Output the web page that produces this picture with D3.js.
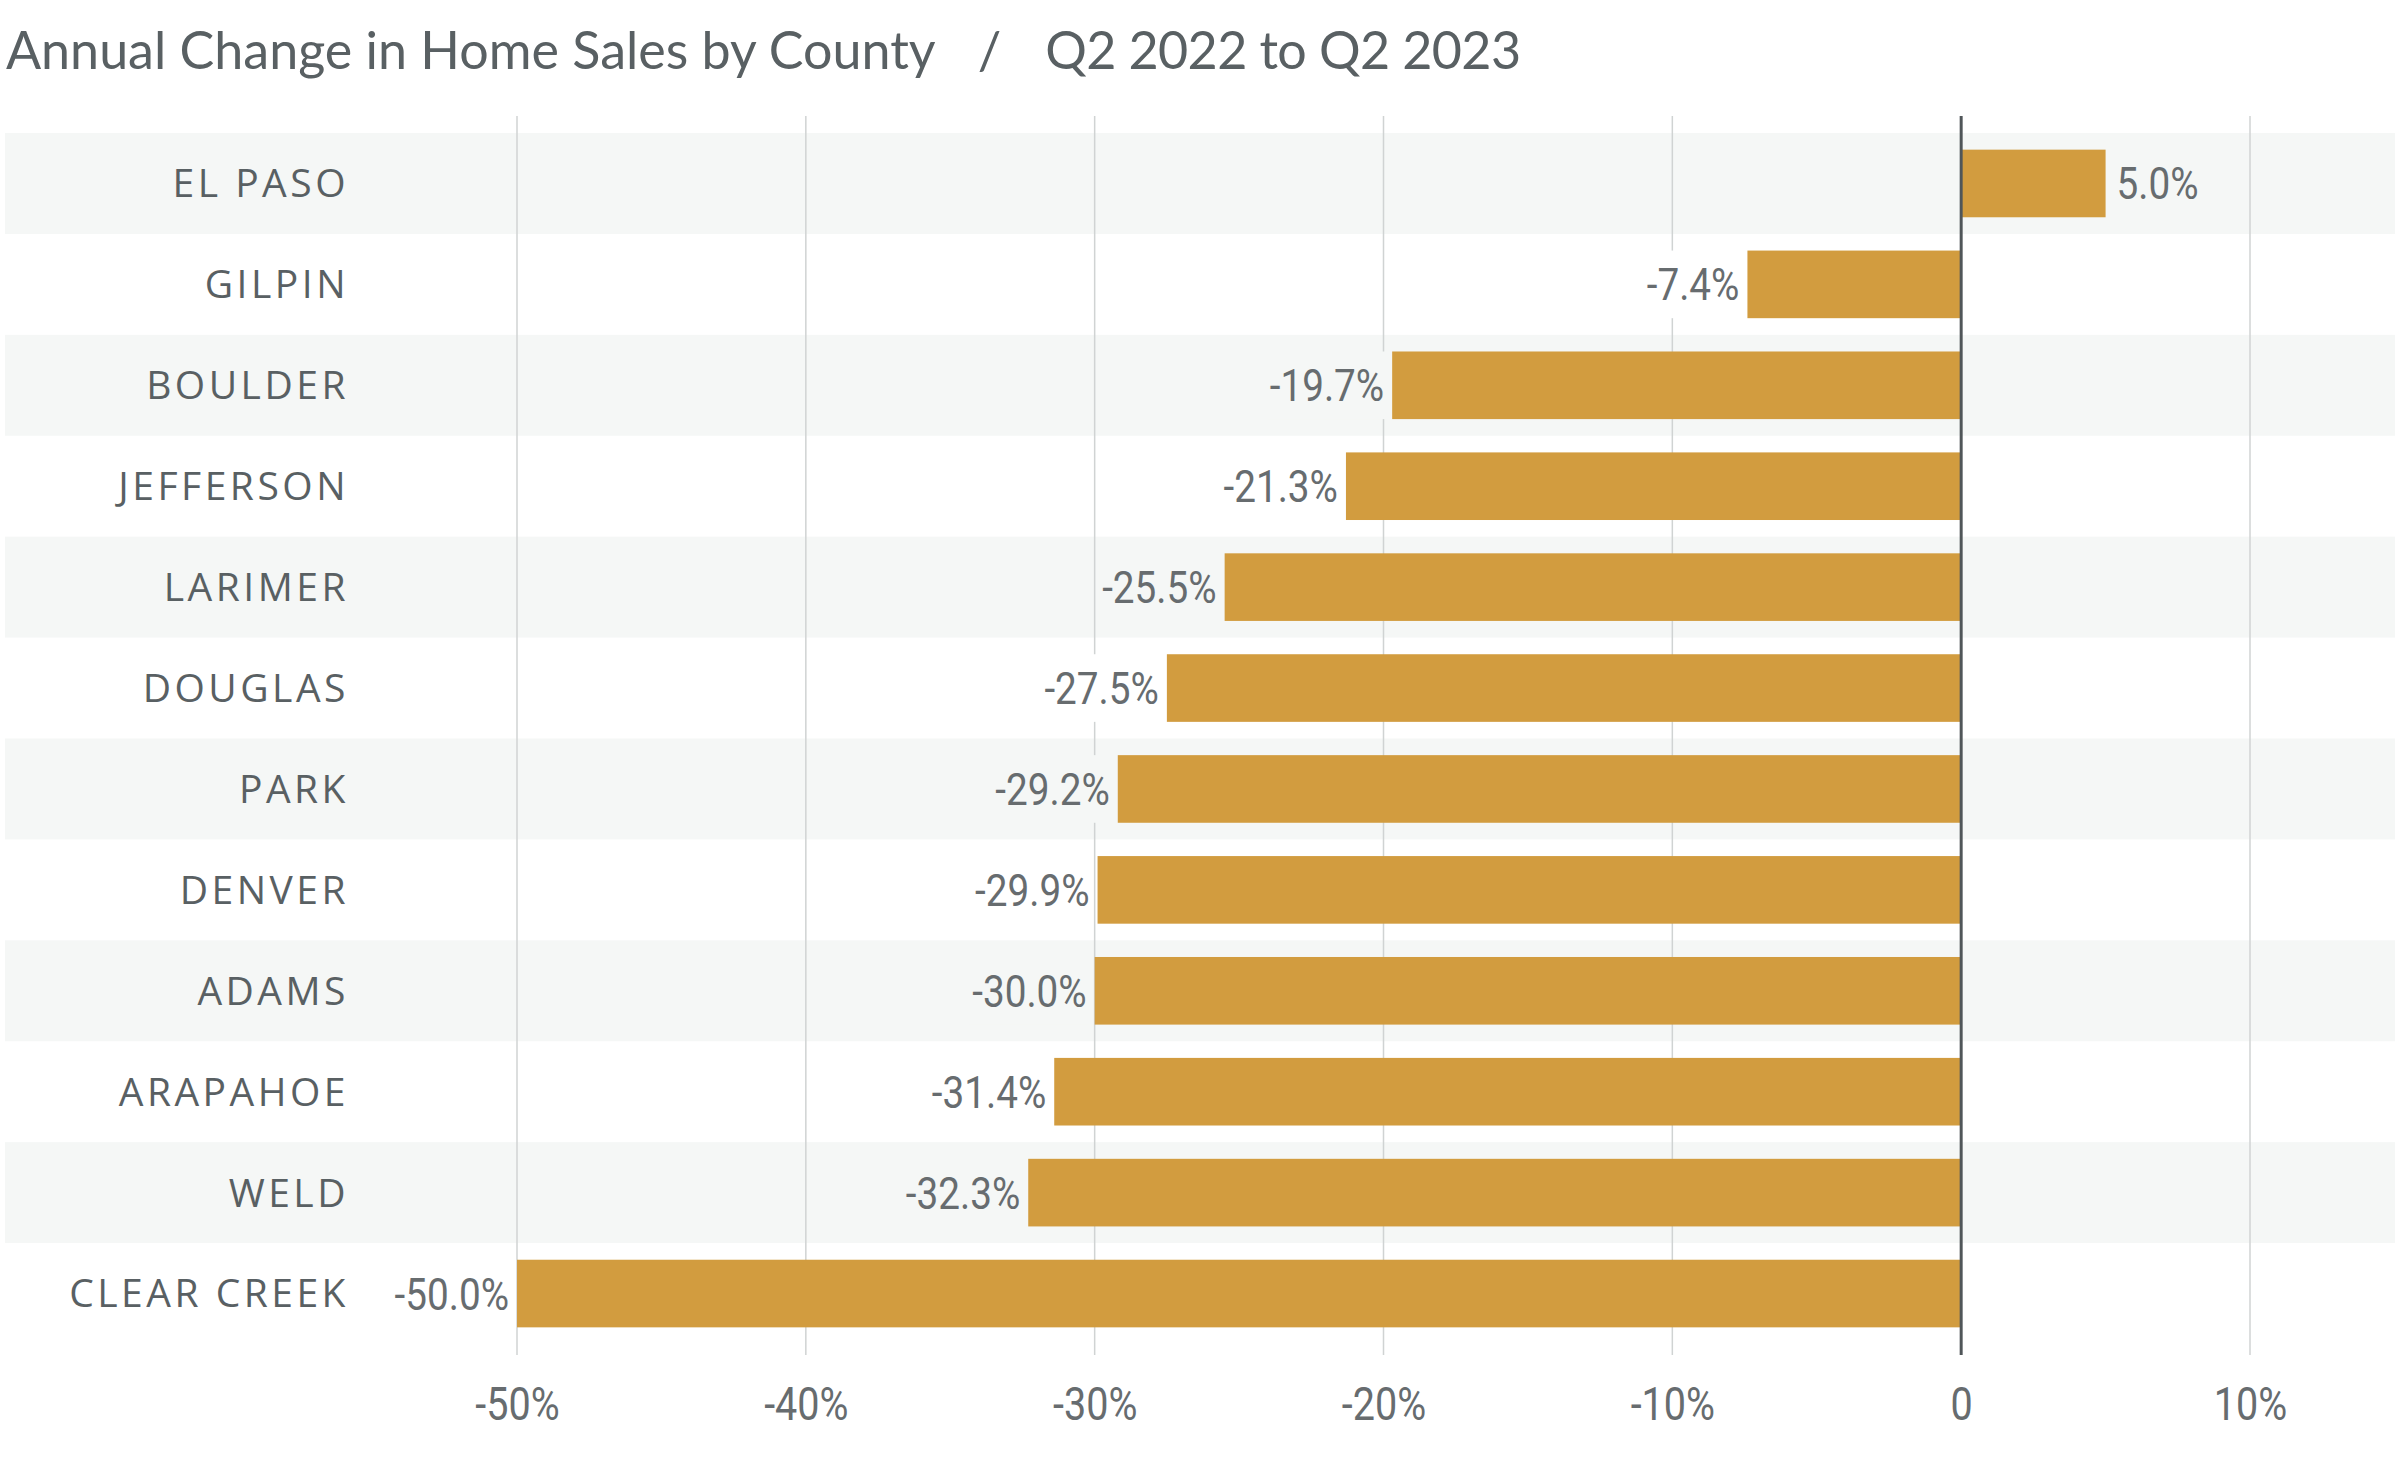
<!DOCTYPE html>
<html>
<head>
<meta charset="utf-8">
<script src="https://cdn.jsdelivr.net/npm/d3@7"></script>
<style>
  body { margin: 0; background: #fff; }
  svg { display: block; }
</style>
</head>
<body>
<svg id="chart"></svg>
<script>
const counties = ["EL PASO", "GILPIN", "BOULDER", "JEFFERSON", "LARIMER", "DOUGLAS",
                  "PARK", "DENVER", "ADAMS", "ARAPAHOE", "WELD", "CLEAR CREEK"];
const changes = [5.0, -7.4, -19.7, -21.3, -25.5, -27.5, -29.2, -29.9, -30.0, -31.4, -32.3, -50.0];
const tickValues = [-50, -40, -30, -20, -10, 0, 10];
const tickLabels = ["-50%", "-40%", "-30%", "-20%", "-10%", "0", "10%"];

const width = 2400;
const height = 1460;
const gold = "#d29c3f";
const textGray = "#596063";
const numGray = "#676c6f";
const bandFill = "#f5f7f6";
const numFont = "Roboto, sans-serif";
const squeeze = 0.86; // numbers in the original are a condensed face

const data = counties.map((c, i) => ({ county: c, value: changes[i], i: i }));

const svg = d3.select("#chart")
    .attr("width", width)
    .attr("height", height);

const x = d3.scaleLinear().domain([-50, 10]).range([517, 2250]);
const rows = d3.scaleBand().domain(counties).range([133, 1344]).padding(0);
const y = d3.scaleBand().domain(counties).range([133, 1344])
    .paddingInner(0.33).paddingOuter(0.165);

const gridTop = 116;
const gridBottom = 1355;

// title
const title = svg.append("text")
    .attr("x", 6)
    .attr("y", 69)
    .attr("fill", textGray)
    .style("font-family", "Lato, 'Open Sans', sans-serif")
    .style("font-size", "52px");
title.append("tspan").text("Annual Change in Home Sales by County");
title.append("tspan").attr("dx", 44).text("/");
title.append("tspan").attr("dx", 44).style("letter-spacing", "-0.6px").text("Q2 2022 to Q2 2023");

// alternating row bands
svg.append("g")
    .selectAll("rect")
    .data(data.filter(d => d.i % 2 === 0))
    .enter()
    .append("rect")
    .attr("x", 5)
    .attr("width", width - 10)
    .attr("y", d => rows(d.county))
    .attr("height", rows.bandwidth())
    .attr("fill", bandFill);

// gridlines
svg.append("g")
    .selectAll("line")
    .data(tickValues.filter(t => t !== 0))
    .enter()
    .append("line")
    .attr("x1", d => x(d))
    .attr("x2", d => x(d))
    .attr("y1", gridTop)
    .attr("y2", gridBottom)
    .attr("stroke", "#d0d3d3")
    .attr("stroke-width", 1.5);

// bars
svg.append("g")
    .selectAll("rect")
    .data(data)
    .enter()
    .append("rect")
    .attr("x", d => x(Math.min(0, d.value)))
    .attr("width", d => Math.abs(x(d.value) - x(0)))
    .attr("y", d => y(d.county))
    .attr("height", y.bandwidth())
    .attr("fill", gold);

// value labels, with a patch behind so gridlines don't run through them
const labels = svg.append("g")
    .selectAll("g")
    .data(data)
    .enter()
    .append("g")
    .attr("transform", d => {
        const px = d.value < 0 ? x(d.value) - 8 : x(d.value) + 11;
        const py = y(d.county) + y.bandwidth() / 2;
        return "translate(" + px + "," + py + ") scale(" + squeeze + ",1)";
    });

labels.append("rect")
    .attr("class", "mask")
    .attr("fill", d => d.i % 2 === 0 ? bandFill : "#fff")
    .attr("y", -y.bandwidth() / 2)
    .attr("height", y.bandwidth());

labels.append("text")
    .attr("dy", "0.355em")
    .attr("text-anchor", d => d.value < 0 ? "end" : "start")
    .attr("fill", numGray)
    .style("font-family", numFont)
    .style("font-size", "45px")
    .text(d => d.value.toFixed(1) + "%");

labels.each(function() {
    const g = d3.select(this);
    const box = g.select("text").node().getBBox();
    g.select("rect.mask")
        .attr("x", box.x - 3)
        .attr("width", box.width + 6);
});

// zero line
svg.append("line")
    .attr("x1", x(0))
    .attr("x2", x(0))
    .attr("y1", gridTop)
    .attr("y2", gridBottom)
    .attr("stroke", "#505659")
    .attr("stroke-width", 3);

// county labels
svg.append("g")
    .selectAll("text")
    .data(data)
    .enter()
    .append("text")
    .attr("x", 349)
    .attr("y", d => rows(d.county) + rows.bandwidth() / 2)
    .attr("dy", "0.357em")
    .attr("text-anchor", "end")
    .attr("fill", textGray)
    .style("font-family", "'Open Sans', Lato, sans-serif")
    .style("font-size", "39px")
    .style("letter-spacing", "3.5px")
    .text(d => d.county);

// bottom axis
const axis = d3.axisBottom(x)
    .tickValues(tickValues)
    .tickFormat((d, i) => tickLabels[i])
    .tickSize(0)
    .tickPadding(0);

const gx = svg.append("g")
    .attr("transform", "translate(0,1420)")
    .call(axis);

gx.select(".domain").remove();
gx.selectAll("text")
    .attr("y", 0)
    .attr("dy", 0)
    .attr("fill", numGray)
    .attr("transform", "scale(" + squeeze + ",1)")
    .style("font-family", numFont)
    .style("font-size", "46px");
</script>
</body>
</html>
